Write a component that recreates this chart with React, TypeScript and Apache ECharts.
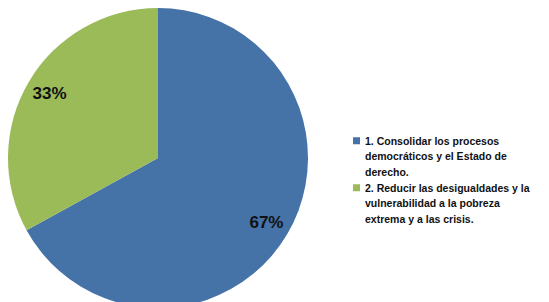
import React, { useEffect, useRef } from "react";
import * as echarts from "echarts";

const categories = [
  "1. Consolidar los procesos democráticos y el Estado de derecho.",
  "2. Reducir las desigualdades y la vulnerabilidad a la pobreza extrema y a las crisis.",
];
const legendLines = [
  ["1. Consolidar los procesos", "democráticos y el Estado de", "derecho."],
  ["2. Reducir las desigualdades y la", "vulnerabilidad a la pobreza", "extrema y a las crisis."],
];
const values = [67, 33];
const colors = ["#4572A7", "#9BBB59"];

export default function App() {
  const ref = useRef<HTMLDivElement>(null);
  useEffect(() => {
    document.body.style.margin = "0";
    const chart = echarts.init(ref.current!, null, { renderer: "svg" });
    const data = categories.map((name, i) => ({ name, value: values[i], itemStyle: { color: colors[i] } }));
    const lh = 15.5;
    const legendFor = (i: number, top: number) => ({
      data: [categories[i]],
      orient: "vertical",
      left: 348,
      top,
      itemWidth: 7,
      itemHeight: 38,
      icon: "path://M0,0L7,0L7,7L0,7Z M0,38L0.01,38L0,38Z",
      symbolKeepAspect: false,
      selectedMode: false,
      formatter: (n: string) => legendLines[categories.indexOf(n)].join("\n"),
      textStyle: {
        fontFamily: "Liberation Sans",
        fontSize: 10.5,
        fontWeight: "bold",
        color: "#111",
        lineHeight: lh,
      },
    });
    chart.setOption({
      animation: false,
      backgroundColor: "#fff",
      legend: [legendFor(0, 128), legendFor(1, 175)],
      series: [
        {
          type: "pie",
          center: [158, 158],
          radius: [0, 150],
          startAngle: 90,
          clockwise: true,
          silent: true,
          label: { show: false },
          labelLine: { show: false },
          itemStyle: { borderWidth: 0 },
          data,
        },
        {
          type: "pie",
          center: [158, 158],
          radius: [96, 150],
          startAngle: 90,
          clockwise: true,
          silent: true,
          legendHoverLink: false,
          itemStyle: { color: "transparent", borderWidth: 0 },
          label: {
            show: true,
            position: "inside",
            formatter: "{d}%",
            fontFamily: "Liberation Sans",
            fontSize: 17,
            fontWeight: "bold",
            color: "#111",
          },
          labelLine: { show: false },
          data: categories.map((name, i) => ({ name, value: values[i] })),
        },
      ],
    });
    return () => chart.dispose();
  }, []);
  return <div ref={ref} style={{ width: 549, height: 302 }} />;
}
